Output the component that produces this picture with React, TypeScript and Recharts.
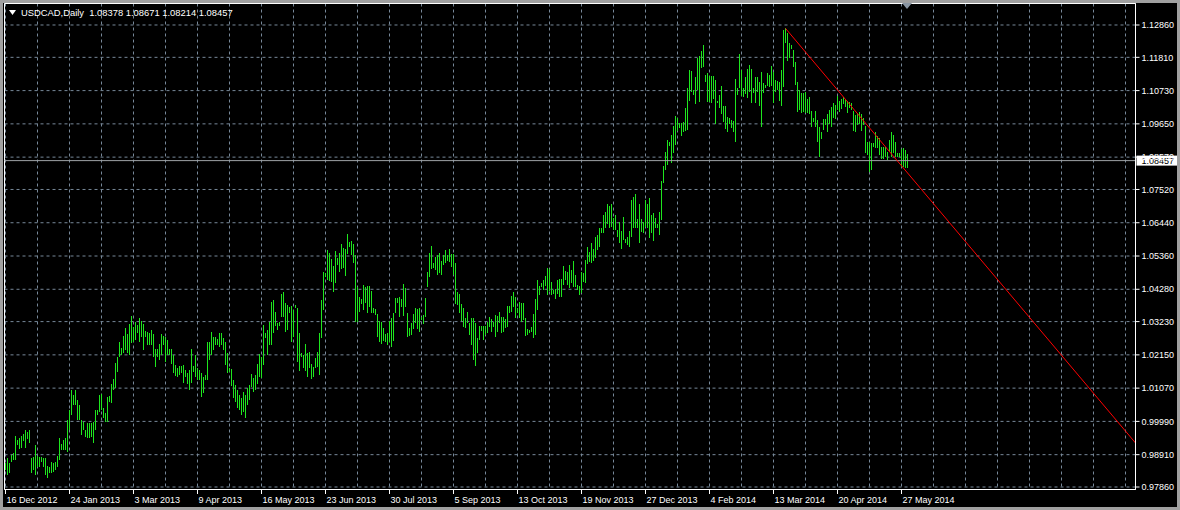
import React from 'react';
import { ComposedChart, Bar, XAxis, YAxis, CartesianGrid, ReferenceLine, ReferenceArea } from 'recharts';

const FONT = '"Liberation Sans", Arial, sans-serif';
const BAR_COLOR = '#1ee61e';
const GRID_COLOR = '#778899';

const symbolTitle = 'USDCAD,Daily';
const lastQuote = [1.08378, 1.08671, 1.08214, 1.08457];

const dateLabels = [
  '16 Dec 2012', '24 Jan 2013', '3 Mar 2013', '9 Apr 2013', '16 May 2013', '23 Jun 2013',
  '30 Jul 2013', '5 Sep 2013', '13 Oct 2013', '19 Nov 2013', '27 Dec 2013', '4 Feb 2014',
  '13 Mar 2014', '20 Apr 2014', '27 May 2014',
];

const priceTicks = [
  0.9786, 0.9891, 0.9999, 1.0107, 1.0215, 1.0323, 1.0428, 1.0536,
  1.0644, 1.0752, 1.0857, 1.0965, 1.1073, 1.1181, 1.1286,
];

const barHigh = [
  0.9863, 0.9879, 0.9865, 0.9890, 0.9895, 0.9953, 0.9939, 0.9946, 0.9952, 0.9958, 0.9971, 0.9966, 0.9971, 0.9879, 0.9884, 0.9922,
  0.9888, 0.9884, 0.9884, 0.9879, 0.9879, 0.9854, 0.9850, 0.9868, 0.9863, 0.9868, 0.9888, 0.9946, 0.9925, 0.9939, 0.9944, 1.0004,
  1.0036, 1.0101, 1.0085, 1.0101, 1.0068, 1.0052, 1.0004, 0.9998, 0.9971, 0.9995, 0.9993, 0.9993, 0.9998, 1.0036, 1.0036, 1.0085,
  1.0088, 1.0041, 1.0025, 1.0079, 1.0081, 1.0119, 1.0136, 1.0187, 1.0209, 1.0258, 1.0236, 1.0276, 1.0301, 1.0282, 1.0314, 1.0341,
  1.0307, 1.0323, 1.0312, 1.0334, 1.0326, 1.0314, 1.0294, 1.0290, 1.0285, 1.0296, 1.0282, 1.0233, 1.0233, 1.0250, 1.0282, 1.0277,
  1.0274, 1.0263, 1.0233, 1.0233, 1.0215, 1.0182, 1.0171, 1.0179, 1.0179, 1.0182, 1.0166, 1.0157, 1.0166, 1.0233, 1.0179, 1.0215,
  1.0171, 1.0166, 1.0155, 1.0144, 1.0150, 1.0258, 1.0258, 1.0290, 1.0274, 1.0274, 1.0265, 1.0285, 1.0287, 1.0271, 1.0258, 1.0220,
  1.0171, 1.0168, 1.0134, 1.0117, 1.0101, 1.0085, 1.0075, 1.0095, 1.0085, 1.0107, 1.0117, 1.0153, 1.0140, 1.0150, 1.0185, 1.0217,
  1.0209, 1.0311, 1.0285, 1.0296, 1.0322, 1.0387, 1.0393, 1.0354, 1.0320, 1.0323, 1.0413, 1.0419, 1.0382, 1.0378, 1.0372, 1.0374,
  1.0361, 1.0377, 1.0366, 1.0285, 1.0220, 1.0215, 1.0249, 1.0220, 1.0223, 1.0185, 1.0174, 1.0204, 1.0224, 1.0285, 1.0393, 1.0485,
  1.0482, 1.0555, 1.0545, 1.0526, 1.0503, 1.0552, 1.0528, 1.0545, 1.0575, 1.0562, 1.0558, 1.0606, 1.0581, 1.0585, 1.0574, 1.0539,
  1.0436, 1.0404, 1.0395, 1.0441, 1.0436, 1.0439, 1.0439, 1.0422, 1.0366, 1.0364, 1.0348, 1.0325, 1.0321, 1.0301, 1.0283, 1.0285,
  1.0325, 1.0336, 1.0352, 1.0401, 1.0399, 1.0404, 1.0395, 1.0445, 1.0431, 1.0352, 1.0301, 1.0317, 1.0348, 1.0366, 1.0363, 1.0366,
  1.0339, 1.0346, 1.0401, 1.0485, 1.0545, 1.0568, 1.0512, 1.0534, 1.0539, 1.0545, 1.0521, 1.0539, 1.0555, 1.0539, 1.0558, 1.0543,
  1.0541, 1.0514, 1.0420, 1.0413, 1.0380, 1.0366, 1.0334, 1.0355, 1.0320, 1.0334, 1.0334, 1.0320, 1.0271, 1.0309, 1.0309, 1.0309,
  1.0309, 1.0323, 1.0339, 1.0330, 1.0323, 1.0344, 1.0341, 1.0354, 1.0339, 1.0337, 1.0330, 1.0374, 1.0374, 1.0406, 1.0419, 1.0404,
  1.0366, 1.0388, 1.0382, 1.0384, 1.0334, 1.0298, 1.0296, 1.0307, 1.0347, 1.0396, 1.0458, 1.0440, 1.0449, 1.0458, 1.0471, 1.0496,
  1.0493, 1.0450, 1.0426, 1.0428, 1.0458, 1.0460, 1.0460, 1.0504, 1.0488, 1.0485, 1.0507, 1.0491, 1.0521, 1.0474, 1.0442, 1.0439,
  1.0485, 1.0482, 1.0523, 1.0566, 1.0548, 1.0579, 1.0558, 1.0599, 1.0604, 1.0626, 1.0626, 1.0669, 1.0680, 1.0704, 1.0698, 1.0704,
  1.0658, 1.0669, 1.0620, 1.0648, 1.0617, 1.0664, 1.0590, 1.0599, 1.0617, 1.0718, 1.0729, 1.0736, 1.0655, 1.0704, 1.0655, 1.0648,
  1.0718, 1.0704, 1.0723, 1.0669, 1.0675, 1.0658, 1.0640, 1.0680, 1.0780, 1.0828, 1.0875, 1.0913, 1.0907, 1.0929, 1.0958, 1.0991,
  1.0983, 1.0969, 1.0967, 1.0972, 1.1015, 1.1080, 1.1140, 1.1138, 1.1075, 1.1118, 1.1180, 1.1185, 1.1200, 1.1221, 1.1124, 1.1131,
  1.1120, 1.1120, 1.1120, 1.1108, 1.1039, 1.1059, 1.1088, 1.1023, 1.1023, 1.0986, 1.0983, 1.0978, 1.0974, 1.1110, 1.1080, 1.1192,
  1.1140, 1.1080, 1.1118, 1.1142, 1.1156, 1.1142, 1.1080, 1.1116, 1.1118, 1.1102, 1.1135, 1.1099, 1.1091, 1.1131, 1.1124, 1.1153,
  1.1135, 1.1108, 1.1104, 1.1102, 1.1140, 1.1270, 1.1275, 1.1259, 1.1229, 1.1221, 1.1205, 1.1167, 1.1102, 1.1075, 1.1064, 1.1066,
  1.1070, 1.1045, 1.1051, 1.1007, 1.0983, 1.1007, 1.0978, 1.0956, 1.0937, 1.0981, 1.0981, 1.0996, 1.1010, 1.1019, 1.1032, 1.1025,
  1.1056, 1.1038, 1.1045, 1.1051, 1.1045, 1.1038, 1.1037, 1.1034, 1.1008, 1.0994, 1.0999, 1.1005, 1.0997, 1.0983, 1.0958, 1.0907,
  1.0907, 1.0904, 1.0902, 1.0940, 1.0926, 1.0918, 1.0889, 1.0889, 1.0889, 1.0875, 1.0913, 1.0940, 1.0929, 1.0905, 1.0872, 1.0872,
  1.0882, 1.0886, 1.0880, 1.08671,
];

const barLow = [
  0.9841, 0.9825, 0.9830, 0.9868, 0.9874, 0.9874, 0.9922, 0.9908, 0.9912, 0.9936, 0.9912, 0.9942, 0.9928, 0.9832, 0.9841, 0.9825,
  0.9852, 0.9852, 0.9868, 0.9852, 0.9825, 0.9814, 0.9830, 0.9832, 0.9836, 0.9841, 0.9852, 0.9874, 0.9906, 0.9906, 0.9906, 0.9901,
  0.9971, 1.0020, 1.0052, 1.0052, 1.0004, 1.0004, 0.9955, 0.9971, 0.9949, 0.9944, 0.9944, 0.9949, 0.9930, 0.9971, 1.0020, 1.0031,
  1.0036, 1.0009, 0.9998, 0.9998, 1.0063, 1.0058, 1.0101, 1.0106, 1.0160, 1.0209, 1.0215, 1.0220, 1.0231, 1.0220, 1.0215, 1.0255,
  1.0258, 1.0263, 1.0285, 1.0258, 1.0274, 1.0231, 1.0274, 1.0247, 1.0247, 1.0247, 1.0209, 1.0177, 1.0209, 1.0198, 1.0215, 1.0247,
  1.0193, 1.0215, 1.0215, 1.0185, 1.0155, 1.0146, 1.0142, 1.0150, 1.0155, 1.0123, 1.0142, 1.0119, 1.0101, 1.0125, 1.0160, 1.0142,
  1.0133, 1.0133, 1.0079, 1.0090, 1.0133, 1.0133, 1.0198, 1.0215, 1.0231, 1.0247, 1.0247, 1.0242, 1.0247, 1.0231, 1.0182, 1.0155,
  1.0160, 1.0115, 1.0075, 1.0062, 1.0043, 1.0036, 1.0019, 1.0030, 1.0010, 1.0052, 1.0068, 1.0110, 1.0095, 1.0100, 1.0120, 1.0144,
  1.0139, 1.0182, 1.0271, 1.0215, 1.0247, 1.0247, 1.0285, 1.0309, 1.0296, 1.0309, 1.0339, 1.0339, 1.0290, 1.0296, 1.0352, 1.0258,
  1.0274, 1.0366, 1.0193, 1.0164, 1.0207, 1.0171, 1.0164, 1.0144, 1.0171, 1.0136, 1.0144, 1.0171, 1.0177, 1.0150, 1.0269, 1.0361,
  1.0469, 1.0458, 1.0456, 1.0453, 1.0420, 1.0449, 1.0507, 1.0485, 1.0493, 1.0496, 1.0471, 1.0543, 1.0566, 1.0539, 1.0512, 1.0323,
  1.0323, 1.0355, 1.0380, 1.0361, 1.0382, 1.0352, 1.0369, 1.0352, 1.0350, 1.0344, 1.0272, 1.0258, 1.0250, 1.0261, 1.0256, 1.0247,
  1.0258, 1.0241, 1.0261, 1.0350, 1.0382, 1.0339, 1.0369, 1.0341, 1.0372, 1.0272, 1.0276, 1.0280, 1.0298, 1.0317, 1.0300, 1.0290,
  1.0328, 1.0315, 1.0339, 1.0436, 1.0469, 1.0493, 1.0496, 1.0491, 1.0474, 1.0480, 1.0474, 1.0507, 1.0512, 1.0521, 1.0518, 1.0501,
  1.0474, 1.0380, 1.0377, 1.0350, 1.0326, 1.0304, 1.0301, 1.0317, 1.0280, 1.0247, 1.0198, 1.0179, 1.0220, 1.0263, 1.0294, 1.0263,
  1.0280, 1.0285, 1.0306, 1.0290, 1.0306, 1.0272, 1.0290, 1.0317, 1.0285, 1.0288, 1.0301, 1.0304, 1.0350, 1.0355, 1.0372, 1.0334,
  1.0350, 1.0334, 1.0323, 1.0328, 1.0276, 1.0280, 1.0287, 1.0290, 1.0269, 1.0280, 1.0361, 1.0409, 1.0434, 1.0426, 1.0439, 1.0409,
  1.0423, 1.0409, 1.0413, 1.0395, 1.0413, 1.0404, 1.0404, 1.0442, 1.0458, 1.0442, 1.0431, 1.0447, 1.0436, 1.0434, 1.0426, 1.0409,
  1.0415, 1.0453, 1.0447, 1.0510, 1.0518, 1.0512, 1.0521, 1.0528, 1.0556, 1.0566, 1.0610, 1.0612, 1.0626, 1.0640, 1.0628, 1.0631,
  1.0620, 1.0620, 1.0597, 1.0577, 1.0558, 1.0588, 1.0577, 1.0572, 1.0566, 1.0599, 1.0626, 1.0626, 1.0628, 1.0579, 1.0615, 1.0610,
  1.0631, 1.0628, 1.0593, 1.0610, 1.0586, 1.0626, 1.0626, 1.0604, 1.0653, 1.0772, 1.0815, 1.0831, 1.0893, 1.0839, 1.0871, 1.0896,
  1.0943, 1.0951, 1.0926, 1.0940, 1.0943, 1.0945, 1.1040, 1.1070, 1.1059, 1.1029, 1.1075, 1.1037, 1.1145, 1.1149, 1.1102, 1.1037,
  1.1037, 1.1034, 1.1045, 1.0964, 1.1032, 1.1016, 1.0997, 1.0972, 1.0947, 1.0937, 1.0965, 1.0951, 1.0937, 1.0907, 1.1059, 1.1080,
  1.1056, 1.1051, 1.1062, 1.1050, 1.1070, 1.1034, 1.1066, 1.1034, 1.1070, 1.1023, 1.0954, 1.1066, 1.1083, 1.1088, 1.1086, 1.1088,
  1.1034, 1.1070, 1.1075, 1.1039, 1.1023, 1.1086, 1.1227, 1.1170, 1.1178, 1.1207, 1.1151, 1.1091, 1.1005, 1.1010, 1.0999, 1.1005,
  1.1001, 1.1001, 1.0997, 1.0954, 1.0972, 1.0954, 1.0907, 1.0859, 1.0915, 1.0945, 1.0961, 1.0937, 1.0965, 1.0954, 1.0983, 1.0980,
  1.1010, 1.1005, 1.1012, 1.1030, 1.1019, 1.0999, 1.1016, 1.1010, 1.0943, 1.0940, 1.0961, 1.0965, 1.0942, 1.0961, 1.0869, 1.0864,
  1.0810, 1.0815, 1.0891, 1.0886, 1.0886, 1.0864, 1.0850, 1.0850, 1.0859, 1.0848, 1.0875, 1.0856, 1.0872, 1.0859, 1.0859, 1.0859,
  1.0826, 1.0826, 1.0821, 1.08214,
];

// trend line drawn by the user: from the March 2014 high down to the right edge
const trendLine = [
  { x: 390, y: 1.1275 },
  { x: 565, y: 0.9929 },
];

const PRICE_MIN = 0.97779;
const PRICE_MAX = 1.13558;
const INDEX_MIN = -0.5;
const INDEX_MAX = 565;
const GRID_STEP = 16;
const LABEL_STEP = 32;

const data = barHigh.map((h, i) => ({ i, range: [barLow[i], h] }));
const xTicks: number[] = [];
for (let t = 0; t <= INDEX_MAX; t += GRID_STEP) xTicks.push(t);

const HLBar = (props: any) => {
  const { x, y, width, height } = props;
  if (x == null || y == null) return <g />;
  const cx = Math.round(x + width / 2 - 0.5) + 0.5;
  const top = Math.min(y, y + height);
  const bottom = Math.max(y, y + height);
  return (
    <line
      x1={cx}
      x2={cx}
      y1={Math.round(top)}
      y2={Math.max(Math.round(bottom), Math.round(top) + 1)}
      stroke={BAR_COLOR}
      strokeWidth={1}
      shapeRendering="crispEdges"
    />
  );
};

const DateTick = (props: any) => {
  const { x, y, payload } = props;
  const idx = payload.value;
  if (idx % LABEL_STEP !== 0) return <g />;
  const label = dateLabels[idx / LABEL_STEP];
  if (!label) return <g />;
  return (
    <g>
      <line x1={x} x2={x} y1={y} y2={y + 4} stroke="#ffffff" shapeRendering="crispEdges" />
      <text x={x + 1} y={y + 10} fill="#ffffff" fontSize={9} fontFamily={FONT} dominantBaseline="central">
        {label}
      </text>
    </g>
  );
};

const PriceTag = (props: any) => {
  const { viewBox } = props;
  if (!viewBox) return <g />;
  const bx = viewBox.x + viewBox.width + 1;
  const by = viewBox.y;
  return (
    <g>
      <rect x={bx} y={by - 5} width={44} height={10} fill="#ffffff" />
      <text x={bx + 5} y={by} fill="#000000" fontSize={9} fontFamily={FONT} dominantBaseline="central">
        {lastQuote[3].toFixed(5)}
      </text>
    </g>
  );
};

export default function App() {
  return (
    <div style={{ position: 'absolute', left: 0, top: 0, width: 1180, height: 510, background: '#000', overflow: 'hidden' }}>
      <ComposedChart
        width={1180}
        height={510}
        data={data}
        margin={{ top: 3.5, right: 0, bottom: 0, left: 4.5 }}
      >
        <CartesianGrid stroke={GRID_COLOR} strokeDasharray="3 3" />
        <XAxis
          dataKey="i"
          type="number"
          domain={[INDEX_MIN, INDEX_MAX]}
          ticks={xTicks}
          interval={0}
          allowDataOverflow
          height={20.5}
          tickSize={0}
          tickMargin={0}
          axisLine={{ stroke: '#ffffff' }}
          tick={<DateTick />}
        />
        <YAxis
          orientation="right"
          type="number"
          domain={[PRICE_MIN, PRICE_MAX]}
          ticks={priceTicks}
          interval={0}
          allowDataOverflow
          width={44.5}
          tickSize={4}
          tickMargin={2}
          axisLine={{ stroke: '#ffffff' }}
          tickLine={{ stroke: '#ffffff' }}
          tick={{ fill: '#ffffff', fontSize: 9, fontFamily: FONT }}
          tickFormatter={(v: number) => v.toFixed(5)}
        />
        <ReferenceArea x1={INDEX_MIN} x2={INDEX_MAX} y1={PRICE_MIN} y2={PRICE_MAX} fill="none" stroke="#ffffff" strokeOpacity={1} fillOpacity={0} />
        <Bar dataKey="range" barSize={1} shape={<HLBar />} isAnimationActive={false} />
        <ReferenceLine y={lastQuote[3]} stroke="#9fa3a7" strokeWidth={1} label={<PriceTag />} />
        <ReferenceLine segment={trendLine} stroke="#ff0000" strokeWidth={1} ifOverflow="hidden" />
      </ComposedChart>
      <div
        style={{
          position: 'absolute', left: 9, top: 7, color: '#fff', fontFamily: FONT, fontSize: 9.4,
          lineHeight: '12px', whiteSpace: 'pre', display: 'flex', alignItems: 'center',
        }}
      >
        <svg width={8} height={6} style={{ marginRight: 4 }}>
          <polygon points="0,0 7,0 3.5,5" fill="#ffffff" />
        </svg>
        <span>{`${symbolTitle}  ${lastQuote.map((v) => v.toFixed(5)).join(' ')}`}</span>
      </div>
      <svg style={{ position: 'absolute', left: 902, top: 3 }} width={12} height={7}>
        <polygon points="0,0 10,0 5,6" fill="#8a96a3" />
      </svg>
      <div
        style={{
          position: 'absolute', left: 0, top: 0, width: 1180, height: 510, boxSizing: 'border-box',
          borderTop: '3px solid #a0a0a0', borderLeft: '3px solid #a0a0a0',
          borderRight: '3px solid #a0a0a0', borderBottom: '3px solid #a0a0a0', pointerEvents: 'none',
        }}
      />
    </div>
  );
}
